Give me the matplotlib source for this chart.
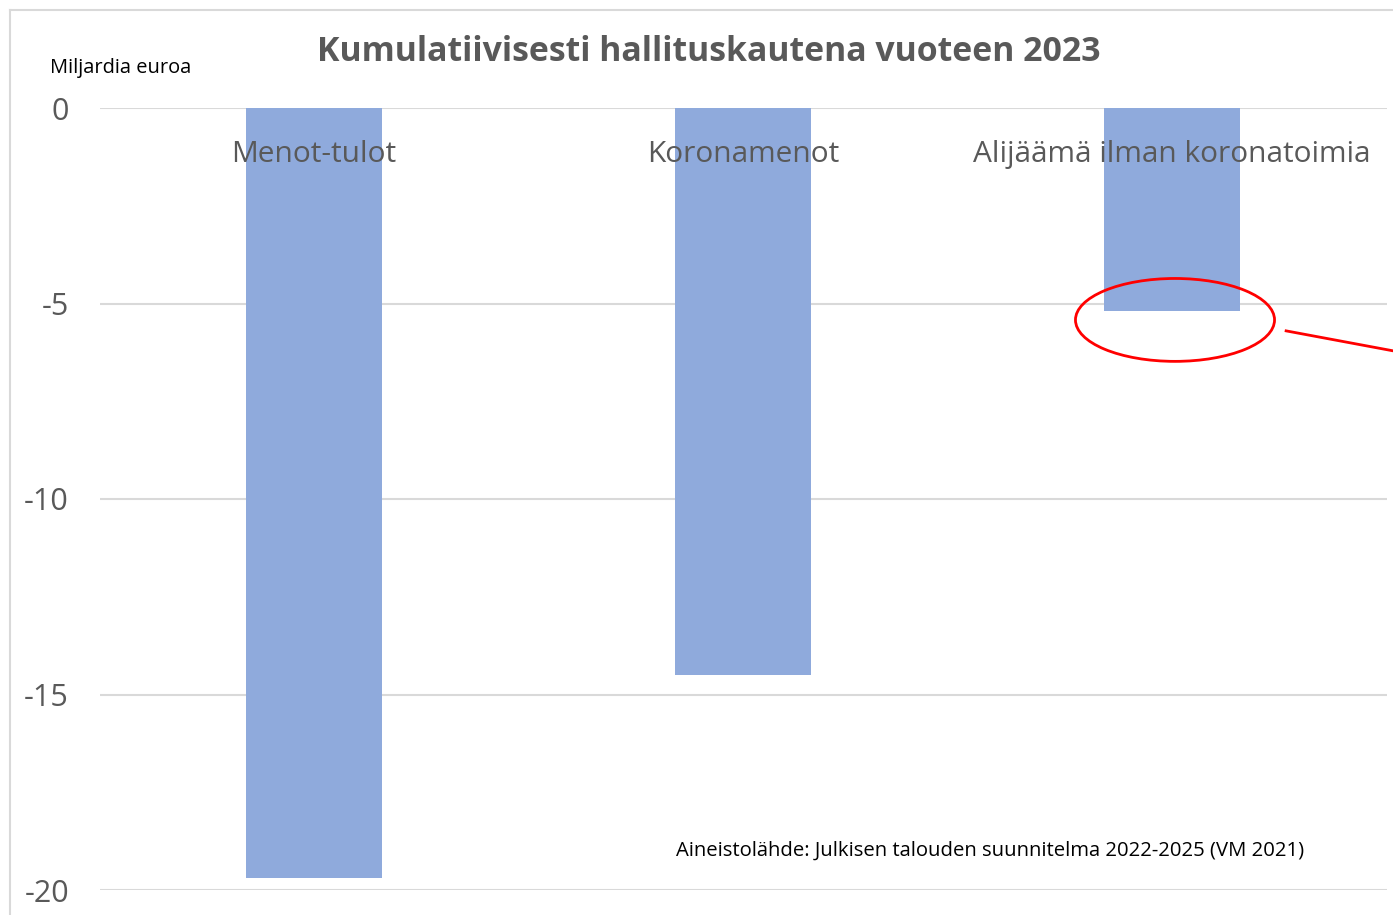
import matplotlib
matplotlib.use('Agg')
import matplotlib.pyplot as plt
from matplotlib.patches import Ellipse
from matplotlib.lines import Line2D

# Kumulatiivinen alijäämä hallituskaudella, mrd euroa
kategoriat = ['Menot-tulot', 'Koronamenot', 'Alijäämä ilman koronatoimia']
arvot = [-19.7, -14.5, -5.2]
y_tikit = [0, -5, -10, -15, -20]

harmaa = '#595959'
plt.rcParams['font.family'] = ['Open Sans', 'DejaVu Sans']

fig = plt.figure(figsize=(13.93, 9.15), dpi=100)
ax = fig.add_axes([99.5 / 1393, 1 - 890 / 915, 1287 / 1393, 782 / 915])

x = range(len(kategoriat))
ax.bar(x, arvot, width=0.315, color='#8FAADC', zorder=2)

ax.set_xlim(-0.5, 2.5)
ax.set_ylim(-20, 0)
ax.set_yticks(y_tikit)
ax.set_yticklabels([str(v) for v in y_tikit], fontsize=22, color=harmaa)
ax.tick_params(axis='y', length=0, pad=22)
ax.set_xticks([])
ax.yaxis.grid(True, color='#d9d9d9', linewidth=1.5, zorder=0)
ax.set_axisbelow(True)
for s in ax.spines.values():
    s.set_visible(False)

# kategorianimet palkkien yläpäässä
for i, nimi in enumerate(kategoriat):
    ax.text(i, -1.2, nimi, ha='center', va='center', fontsize=21.5,
            color=harmaa, zorder=3)

# punainen ympyröinti ja viiva
ax.add_patch(Ellipse((2.007, -5.42), 0.464, 2.12, fill=False,
                     edgecolor='red', linewidth=2, zorder=4, clip_on=False))
ax.add_line(Line2D([2.266, 2.52], [-5.70, -6.22], color='red',
                   linewidth=2, zorder=4, clip_on=False))

fig.text(709 / 1393, 1 - 52 / 915, 'Kumulatiivisesti hallituskautena vuoteen 2023',
         ha='center', va='center', fontsize=24.4, fontweight='bold', color=harmaa)
fig.text(50 / 1393, 1 - 68 / 915, 'Miljardia euroa', ha='left', va='center',
         fontsize=14.4, color='black')
fig.text(676 / 1393, 1 - 851 / 915,
         'Aineistolähde: Julkisen talouden suunnitelma 2022-2025 (VM 2021)',
         ha='left', va='center', fontsize=14.6, color='black')

# kaavion reunaviiva
fig.add_artist(Line2D([10 / 1393, 10 / 1393], [0, 1 - 10 / 915], color='#d9d9d9',
                      linewidth=1.5, transform=fig.transFigure))
fig.add_artist(Line2D([10 / 1393, 1], [1 - 10 / 915, 1 - 10 / 915], color='#d9d9d9',
                      linewidth=1.5, transform=fig.transFigure))

fig.savefig('out.png', dpi=100)
